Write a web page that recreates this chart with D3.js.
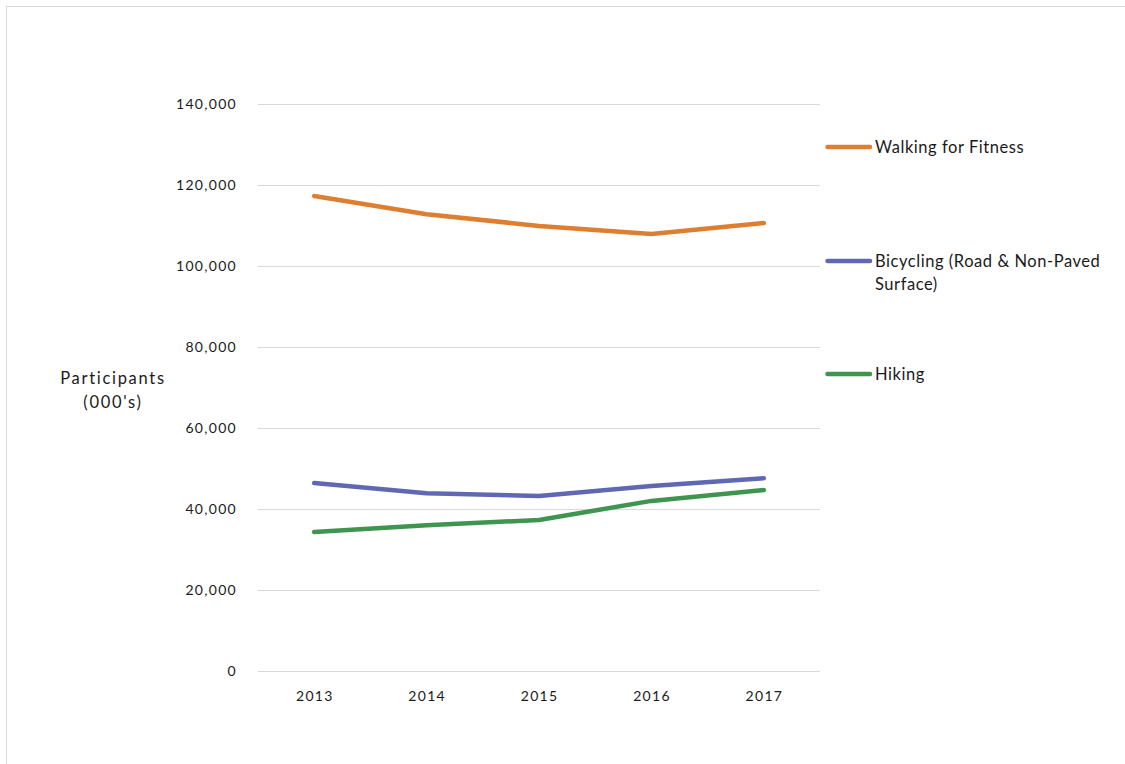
<!DOCTYPE html>
<html><head><meta charset="utf-8">
<script src="https://cdn.jsdelivr.net/npm/d3@7"></script>
<style>
html,body{margin:0;padding:0;background:#fff;}
svg{display:block;}
text{font-family:Lato,"Open Sans",sans-serif;fill:#1a1a1a;}
</style></head>
<body>
<svg id="c" width="1125" height="764"></svg>
<script>
const years = ["2013","2014","2015","2016","2017"];
const walking = [117300, 112800, 109900, 107900, 110600];
const bicycling = [46400, 43900, 43200, 45700, 47600];
const hiking = [34300, 36000, 37300, 42000, 44700];
const yTicks = [0, 20000, 40000, 60000, 80000, 100000, 120000, 140000];
const seriesNames = ["Walking for Fitness", "Bicycling (Road & Non-Paved Surface)", "Hiking"];
const seriesColors = ["#DE7E31", "#6168B3", "#3F9550"];

const series = [
  {name: seriesNames[0], values: walking, color: seriesColors[0], label: ["Walking for Fitness"]},
  {name: seriesNames[1], values: bicycling, color: seriesColors[1], label: ["Bicycling (Road & Non-Paved", "Surface)"]},
  {name: seriesNames[2], values: hiking, color: seriesColors[2], label: ["Hiking"]}
];

const svg = d3.select("#c");
svg.append("rect").attr("x",6.5).attr("y",6.5).attr("width",1130).attr("height",770)
  .attr("fill","none").attr("stroke","#d9d9d9").attr("stroke-width",1);

const L = 258, R = 820, T = 104, B = 671;
const x = d3.scaleBand().domain(years).range([L, R]);
const y = d3.scaleLinear().domain([0, 140000]).range([B, T]);

svg.append("g").selectAll("line").data(yTicks).join("line")
  .attr("x1", L).attr("x2", R)
  .attr("y1", d => Math.round(y(d)) + 0.5).attr("y2", d => Math.round(y(d)) + 0.5)
  .attr("stroke", "#d9d9d9").attr("stroke-width", 1);

const yAxis = d3.axisLeft(y).tickValues(yTicks).tickSize(0).tickPadding(0)
  .tickFormat(d3.format(","));
const gy = svg.append("g").attr("transform", `translate(237,0)`).call(yAxis);
gy.select(".domain").remove();
gy.selectAll("text").style("font-family","Lato,'Open Sans',sans-serif").style("font-size","14px")
  .attr("letter-spacing","1.3px").attr("fill","#1a1a1a");

const xAxis = d3.axisBottom(x).tickSize(0).tickPadding(0);
const gx = svg.append("g").attr("transform", `translate(0.6,${B + 20})`).call(xAxis);
gx.select(".domain").remove();
gx.selectAll("text").style("font-family","Lato,'Open Sans',sans-serif").style("font-size","14px")
  .attr("letter-spacing","1.3px").attr("fill","#1a1a1a");

const yt = svg.append("text").attr("text-anchor","middle").style("font-size","16.5px");
yt.append("tspan").attr("x",113).attr("y",384).attr("letter-spacing","1.7px").text("Participants");
yt.append("tspan").attr("x",113).attr("y",408).attr("letter-spacing","1.7px").text("(000's)");

const line = d3.line().x((d, i) => x(years[i]) + x.bandwidth() / 2).y(d => y(d));
svg.append("g").selectAll("path").data(series).join("path")
  .attr("d", d => line(d.values))
  .attr("fill", "none").attr("stroke", d => d.color)
  .attr("stroke-width", 4.5).attr("stroke-linecap", "round").attr("stroke-linejoin", "round");

const legY = [147, 261, 374];
const lg = svg.append("g").selectAll("g").data(series).join("g")
  .attr("transform", (d, i) => `translate(826,${legY[i]})`);
lg.append("line").attr("x1",1.5).attr("x2",44).attr("y1",0).attr("y2",0)
  .attr("stroke", d => d.color).attr("stroke-width",4.5).attr("stroke-linecap","round");
lg.append("text").attr("x",49).attr("y",6).style("font-size","16.5px").attr("letter-spacing","0.55px")
  .each(function(d){
    const t = d3.select(this);
    d.label.forEach((s, j) => t.append("tspan").attr("x",49).attr("dy", j === 0 ? 0 : 23).text(s));
  });
</script>
</body></html>
